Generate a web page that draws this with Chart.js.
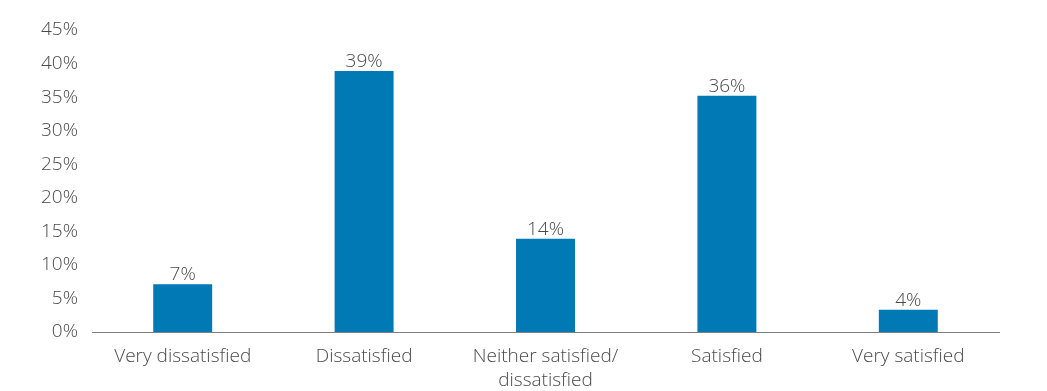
<!DOCTYPE html>
<html>
<head>
<meta charset="utf-8">
<script src="https://cdn.jsdelivr.net/npm/chart.js@4/dist/chart.umd.min.js"></script>
<style>
  html, body { margin: 0; padding: 0; background: #fff; }
  #wrap { width: 1047px; height: 391px; position: relative; }
</style>
</head>
<body>
<div id="wrap"><canvas id="barChart"></canvas></div>
<script>
// categorias e valores
var categorias = ['Very dissatisfied', 'Dissatisfied', ['Neither satisfied/', 'dissatisfied'], 'Satisfied', 'Very satisfied'];
var valores = [7.1, 38.9, 13.9, 35.2, 3.3];
var rotulos = ['7%', '39%', '14%', '36%', '4%'];
var ticksY = [0, 5, 10, 15, 20, 25, 30, 35, 40, 45];

var fonte = "'Open Sans', sans-serif";
var corTexto = '#4a4a4a';

// desenha os rótulos acima das barras
var rotulosPlugin = {
    id: 'rotulos',
    afterDatasetsDraw: function(chart) {
        var ctx = chart.ctx;
        var meta = chart.getDatasetMeta(0);
        ctx.save();
        ctx.font = '300 19px ' + fonte;
        ctx.fillStyle = corTexto;
        ctx.textAlign = 'center';
        ctx.textBaseline = 'bottom';
        meta.data.forEach(function(bar, i) {
            ctx.fillText(rotulos[i], bar.x, bar.y);
        });
        ctx.restore();
    }
};

document.addEventListener("DOMContentLoaded", function() {
    var ctx = document.getElementById('barChart').getContext('2d');

    new Chart(ctx, {
        type: 'bar',
        data: {
            labels: categorias,
            datasets: [{
                data: valores,
                backgroundColor: '#0079B5',
                barPercentage: 0.325,
                categoryPercentage: 1
            }]
        },
        options: {
            responsive: true,
            maintainAspectRatio: false,
            animation: false,
            layout: { padding: { top: 30, right: 48, left: 0, bottom: 0 } },
            plugins: {
                legend: { display: false },
                tooltip: { enabled: false }
            },
            scales: {
                x: {
                    grid: { display: false },
                    border: { display: true, color: '#7f7f7f', width: 1 },
                    ticks: {
                        color: corTexto,
                        padding: 4,
                        maxRotation: 0,
                        font: { family: fonte, size: 19, weight: '300', lineHeight: 1.3 }
                    },
                    afterFit: function(scale) { scale.height = 59; }
                },
                y: {
                    min: 0,
                    max: 45,
                    grid: { display: false },
                    border: { display: false },
                    afterBuildTicks: function(scale) {
                        scale.ticks = ticksY.map(function(v) { return { value: v }; });
                    },
                    ticks: {
                        color: corTexto,
                        padding: 6,
                        font: { family: fonte, size: 19, weight: '300' },
                        callback: function(v) { return v + '%'; }
                    },
                    afterFit: function(scale) { scale.width = 92; }
                }
            }
        },
        plugins: [rotulosPlugin]
    });
});
</script>
</body>
</html>
